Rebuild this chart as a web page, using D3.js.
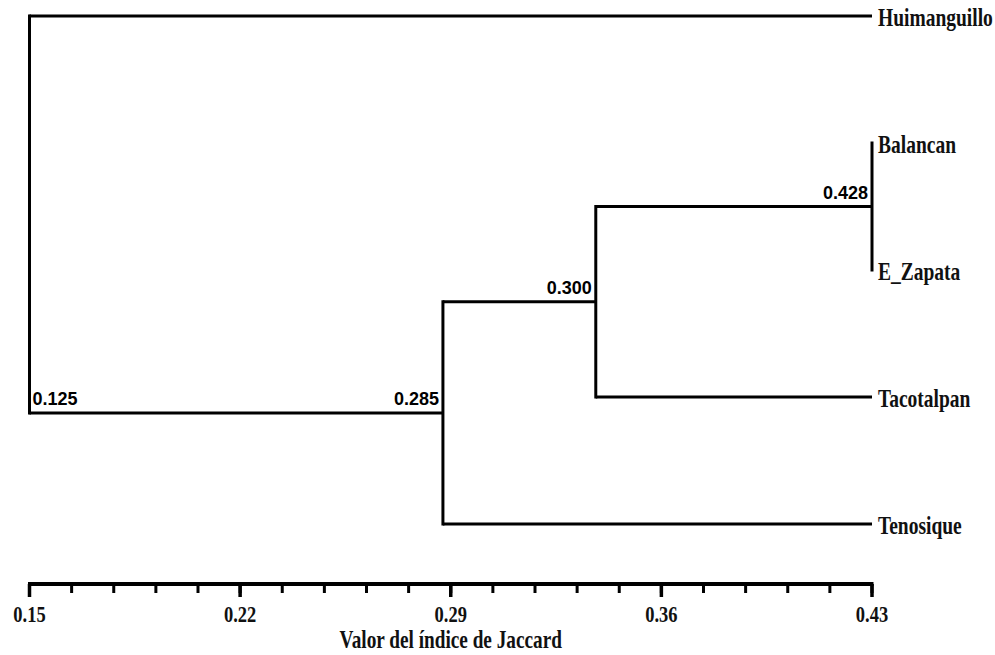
<!DOCTYPE html>
<html>
<head>
<meta charset="utf-8">
<script src="https://cdn.jsdelivr.net/npm/d3@7"></script>
<style>
  html, body { margin: 0; padding: 0; background: #fff; }
  svg { display: block; }
  .serif { font-family: "Liberation Serif", "Times New Roman", Tinos, "DejaVu Serif", serif; font-weight: bold; }
  .sans { font-family: "Liberation Sans", Arial, sans-serif; font-weight: bold; }
</style>
</head>
<body>
<svg id="chart" width="995" height="655"></svg>
<script>
// ---- data ----
const leaves = ["Huimanguillo", "Balancan", "E_Zapata", "Tacotalpan", "Tenosique"];
// internal nodes (clusters), from root to deepest
const nodeNames = ["n0", "n1", "n2", "n3"];
const nodeLabels = ["0.125", "0.285", "0.300", "0.428"];
// horizontal position of each internal node
const nodePositions = [0.15, 0.2874, 0.3382, 0.43];
// children of each internal node
const nodeChildren = [["Huimanguillo", "n1"], ["n2", "Tenosique"], ["n3", "Tacotalpan"], ["Balancan", "E_Zapata"]];
const leafPosition = 0.43;
const axisTicks = [0.15, 0.22, 0.29, 0.36, 0.43];
const axisTickLabels = ["0.15", "0.22", "0.29", "0.36", "0.43"];
const axisTitle = "Valor del índice de Jaccard";

// ---- build hierarchy ----
function build(name) {
  const i = nodeNames.indexOf(name);
  if (i < 0) return { name, pos: leafPosition, leaf: true };
  return { name, label: nodeLabels[i], pos: nodePositions[i], children: nodeChildren[i].map(build) };
}
const root = d3.hierarchy(build(nodeNames[0]));

const svg = d3.select("#chart");
const x = d3.scaleLinear().domain([0.15, 0.43]).range([29.5, 872]);
const y = d3.scalePoint().domain(leaves).range([16, 524]);

root.eachAfter(n => {
  n.px = x(n.data.pos);
  n.py = n.children ? d3.mean(n.children, c => c.py) : y(n.data.name);
});

const g = svg.append("g");
root.descendants().filter(n => n.children).forEach(n => {
  const ys = n.children.map(c => c.py);
  g.append("line")
    .attr("x1", n.px).attr("x2", n.px)
    .attr("y1", d3.min(ys) - 1.5).attr("y2", d3.max(ys) + 1.5)
    .attr("stroke", "#000").attr("stroke-width", 3);
  n.children.forEach(c => {
    if (c.px > n.px) {
      g.append("line")
        .attr("x1", n.px).attr("x2", c.px)
        .attr("y1", c.py).attr("y2", c.py)
        .attr("stroke", "#000").attr("stroke-width", 3);
    }
  });
});

root.descendants().filter(n => n.children).forEach(n => {
  let tx, ty, anchor;
  if (!n.parent) {
    const lastInner = n.children.filter(c => c.children).slice(-1)[0];
    tx = n.px + 3; ty = lastInner.py - 8; anchor = "start";
  } else {
    tx = n.px - 4; ty = n.py - 8; anchor = "end";
  }
  g.append("text")
    .attr("class", "sans")
    .attr("x", tx).attr("y", ty)
    .attr("text-anchor", anchor)
    .attr("font-size", 18)
    .attr("fill", "#000")
    .text(n.data.label);
});

root.leaves().forEach(l => {
  g.append("text")
    .attr("class", "serif")
    .attr("transform", `translate(${l.px + 6},${l.py + 10}) scale(0.78,1)`)
    .attr("font-size", 25)
    .attr("fill", "#111")
    .text(l.data.name);
});

const axisY = 584;
const ax = svg.append("g");
ax.append("line")
  .attr("x1", x(0.15) - 1.5).attr("x2", x(0.43) + 1.5)
  .attr("y1", axisY).attr("y2", axisY)
  .attr("stroke", "#000").attr("stroke-width", 4);
const minorTicks = d3.range(0, 21).map(i => 0.15 + i * 0.014);
ax.selectAll("line.minor").data(minorTicks).join("line")
  .attr("class", "minor")
  .attr("x1", d => x(d)).attr("x2", d => x(d))
  .attr("y1", axisY).attr("y2", axisY + 9)
  .attr("stroke", "#000").attr("stroke-width", 3);
ax.selectAll("line.major").data(axisTicks).join("line")
  .attr("class", "major")
  .attr("x1", d => x(d)).attr("x2", d => x(d))
  .attr("y1", axisY).attr("y2", axisY + 13)
  .attr("stroke", "#000").attr("stroke-width", 3.5);
ax.selectAll("text.tick").data(axisTicks).join("text")
  .attr("class", "tick serif")
  .attr("transform", d => `translate(${x(d)},622) scale(0.77,1)`)
  .attr("text-anchor", "middle")
  .attr("font-size", 24)
  .attr("fill", "#111")
  .text((d, i) => axisTickLabels[i]);
ax.append("text")
  .attr("class", "serif")
  .attr("transform", `translate(${x(0.29)},648) scale(0.77,1)`)
  .attr("text-anchor", "middle")
  .attr("font-size", 25)
  .attr("fill", "#111")
  .text(axisTitle);
</script>
</body>
</html>
